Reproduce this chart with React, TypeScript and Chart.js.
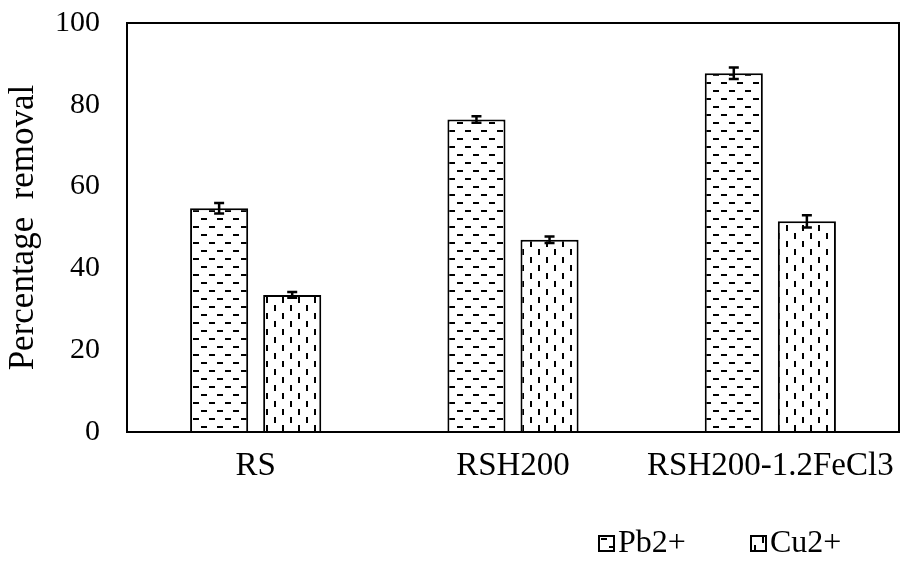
import React, { useEffect, useRef } from "react";
import { Chart, registerables } from "chart.js";

Chart.register(...registerables);

// Removal efficiency (%) per adsorbent, with standard deviation
const categories = ["RS", "RSH200", "RSH200-1.2FeCl3"];
const pbRemoval = [54.7, 76.4, 87.7];
const pbError = [1.3, 0.8, 1.4];
const cuRemoval = [33.5, 47.0, 51.5];
const cuError = [0.7, 0.8, 1.5];
const yTicks = [0, 20, 40, 60, 80, 100];
const seriesLabels = ["Pb2+", "Cu2+"];
const yTitle = "Percentage  removal";

const FONT = '"Liberation Serif", "Times New Roman", serif';

function makePattern(kind: "h" | "v"): CanvasPattern | string {
  const c = document.createElement("canvas");
  c.width = 16;
  c.height = 16;
  const g = c.getContext("2d");
  if (!g) return "#fff";
  g.fillStyle = "#fff";
  g.fillRect(0, 0, 16, 16);
  g.fillStyle = "#000";
  if (kind === "h") {
    g.fillRect(1, 2, 6, 2);
    g.fillRect(9, 10, 6, 2);
  } else {
    g.fillRect(2, 1, 2, 6);
    g.fillRect(10, 9, 2, 6);
  }
  return g.createPattern(c, "repeat") || "#fff";
}

const errorBarsPlugin = {
  id: "errorBars",
  afterDatasetsDraw(chart: any) {
    const ctx = chart.ctx;
    const y = chart.scales.y;
    chart.data.datasets.forEach((ds: any, di: number) => {
      const meta = chart.getDatasetMeta(di);
      const errs: number[] = ds.errors || [];
      meta.data.forEach((bar: any, i: number) => {
        const v = ds.data[i];
        const e = errs[i] || 0;
        const yTop = y.getPixelForValue(v + e);
        const yBot = y.getPixelForValue(v - e);
        const x = bar.x;
        ctx.save();
        ctx.strokeStyle = "#000";
        ctx.lineWidth = 2.5;
        ctx.beginPath();
        ctx.moveTo(x, yTop);
        ctx.lineTo(x, yBot);
        ctx.moveTo(x - 5, yTop);
        ctx.lineTo(x + 5, yTop);
        ctx.moveTo(x - 5, yBot);
        ctx.lineTo(x + 5, yBot);
        ctx.stroke();
        ctx.restore();
      });
    });
  },
};

const frameAndLegendPlugin = {
  id: "frameAndLegend",
  afterDraw(chart: any) {
    const ctx = chart.ctx;
    const a = chart.chartArea;
    ctx.save();
    ctx.strokeStyle = "#000";
    ctx.lineWidth = 2;
    ctx.strokeRect(a.left, a.top, a.right - a.left, a.bottom - a.top);

    // legend, bottom right
    const items = chart.data.datasets.map((ds: any) => ({
      label: ds.label,
      fill: ds.backgroundColor,
    }));
    const boxStarts = [591, 743];
    const cy = 535;
    ctx.font = `32px ${FONT}`;
    ctx.textBaseline = "middle";
    items.forEach((it: any, i: number) => {
      const bx = boxStarts[i];
      ctx.fillStyle = it.fill;
      ctx.fillRect(bx, cy - 7, 15, 15);
      ctx.strokeStyle = "#000";
      ctx.lineWidth = 2;
      ctx.strokeRect(bx, cy - 7, 15, 15);
      ctx.fillStyle = "#000";
      ctx.fillText(it.label, bx + 19, cy + 1);
    });
    ctx.restore();
  },
};

export default function App() {
  const ref = useRef<HTMLCanvasElement | null>(null);

  useEffect(() => {
    if (!ref.current) return;
    const chart = new Chart(ref.current, {
      type: "bar",
      data: {
        labels: categories,
        datasets: [
          {
            label: seriesLabels[0],
            data: pbRemoval,
            errors: pbError,
            backgroundColor: makePattern("h"),
            borderColor: "#000",
            borderWidth: 2,
            categoryPercentage: 0.568,
            barPercentage: 0.795,
          } as any,
          {
            label: seriesLabels[1],
            data: cuRemoval,
            errors: cuError,
            backgroundColor: makePattern("v"),
            borderColor: "#000",
            borderWidth: 2,
            categoryPercentage: 0.568,
            barPercentage: 0.795,
          } as any,
        ],
      },
      options: {
        animation: false,
        responsive: true,
        maintainAspectRatio: false,
        layout: { padding: { top: 15, right: 11, bottom: 0, left: 0 } },
        plugins: {
          legend: { display: false },
          tooltip: { enabled: false },
        },
        scales: {
          x: {
            grid: { display: false, drawTicks: false },
            border: { display: false },
            ticks: {
              color: "#000",
              padding: 18,
              font: { family: FONT, size: 33, lineHeight: 1 },
              maxRotation: 0,
              autoSkip: false,
            },
            afterFit(scale: any) {
              scale.height = 122;
              scale.paddingLeft = 0;
              scale.paddingRight = 0;
            },
          },
          y: {
            min: 0,
            max: 100,
            grid: { display: false, drawTicks: false },
            border: { display: false },
            afterBuildTicks(scale: any) {
              scale.ticks = yTicks.map((v) => ({ value: v }));
            },
            ticks: {
              color: "#000",
              padding: 27,
              font: { family: FONT, size: 30, lineHeight: 1 },
            },
            title: {
              display: true,
              text: yTitle,
              color: "#000",
              padding: 0,
              font: { family: FONT, size: 35, lineHeight: 0.9 },
            },
            afterFit(scale: any) {
              scale.width = 119;
              scale.paddingTop = 0;
              scale.paddingBottom = 0;
            },
          },
        },
      },
      plugins: [errorBarsPlugin, frameAndLegendPlugin],
    });
    return () => chart.destroy();
  }, []);

  return (
    <div style={{ position: "relative", width: 902, height: 546 }}>
      <canvas ref={ref} />
    </div>
  );
}
